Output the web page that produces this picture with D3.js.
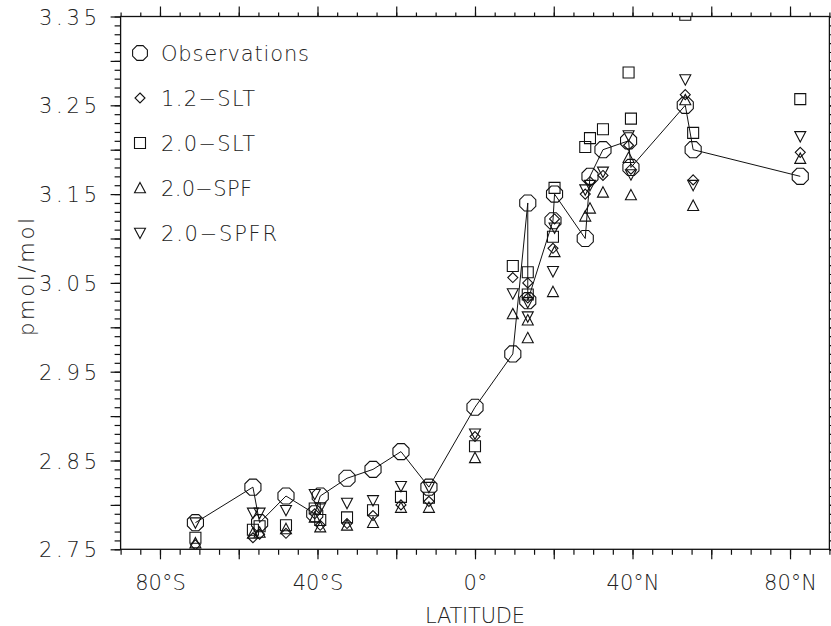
<!DOCTYPE html>
<html lang="en">
<head>
    <meta charset="UTF-8">
    <script src="https://d3js.org/d3.v7.min.js"></script>
    <title>pmol/mol vs latitude</title>
    <style>
        body { margin: 0; background: #fff; }
        text { font-family: "DejaVu Sans", sans-serif; font-weight: 200; fill: #222; }
    </style>
</head>
<body>
<script>
    // station latitudes (deg, S negative) and mixing ratios (pmol/mol)
    var lat    = [-71, -56.4, -54.7, -48, -40.7, -39.3, -32.5, -25.9, -18.8, -11.7, 0, 9.6, 13.4, 13.4, 19.8, 20.2, 28, 29.2, 32.5, 39, 39.6, 53.4, 55.4, 82.6];
    var obs    = [2.78, 2.82, 2.78, 2.81, 2.79, 2.81, 2.83, 2.84, 2.86, 2.82, 2.91, 2.97, 3.14, 3.03, 3.12, 3.15, 3.10, 3.17, 3.20, 3.21, 3.18, 3.25, 3.20, 3.17];
    var slt12  = [2.755, 2.763, 2.767, 2.768, 2.790, 2.777, 2.779, 2.788, 2.800, 2.804, 2.877, 3.056, 3.050, 3.033, 3.089, 3.122, 3.150, 3.164, 3.171, 3.205, 3.178, 3.262, 3.166, 3.197];
    var slt20  = [2.763, 2.772, 2.776, 2.777, 2.796, 2.783, 2.786, 2.794, 2.809, 2.808, 2.866, 3.069, 3.062, 3.037, 3.102, 3.157, 3.203, 3.213, 3.223, 3.287, 3.235, 3.352, 3.219, 3.257];
    var spf20  = [2.757, 2.768, 2.769, 2.773, 2.786, 2.775, 2.777, 2.780, 2.797, 2.797, 2.853, 3.015, 3.008, 2.988, 3.040, 3.085, 3.125, 3.134, 3.152, 3.191, 3.149, 3.256, 3.137, 3.190];
    var spfr20 = [2.780, 2.791, 2.791, 2.794, 2.812, 2.797, 2.802, 2.805, 2.821, 2.820, 2.880, 3.038, 3.028, 3.012, 3.063, 3.112, 3.155, 3.160, 3.175, 3.216, 3.172, 3.279, 3.160, 3.215];

    var legendNames = ["Observations", "1.2\u2212SLT", "2.0\u2212SLT", "2.0\u2212SPF", "2.0\u2212SPFR"];

    var xTickValues = [-80, -40, 0, 40, 80];
    var xTickLabels = ["80°S", "40°S", "0°", "40°N", "80°N"];
    var yTickValues = [2.75, 2.85, 2.95, 3.05, 3.15, 3.25, 3.35];
    var yTickLabels = ["2.75", "2.85", "2.95", "3.05", "3.15", "3.25", "3.35"];

    var width = 831, height = 626;
    var pLeft = 120.6, pRight = 829.4, pTop = 16.5, pBottom = 549.3;

    var x = d3.scaleLinear().domain([-90, 90]).range([pLeft, pRight]);
    var y = d3.scaleLinear().domain([2.75, 3.35]).range([pBottom, pTop]);

    var svg = d3.select("body").append("svg")
            .attr("width", width)
            .attr("height", height);

    // marker outlines, centred on 0,0
    function octagon(r) {
        var p = [];
        for (var k = 0; k < 8; k++) {
            var a = Math.PI / 8 + k * Math.PI / 4;
            p.push([r * Math.cos(a), r * Math.sin(a)]);
        }
        return "M" + p.join("L") + "Z";
    }
    var shapes = [
        octagon(8.7),
        "M0,-5L5,0L0,5L-5,0Z",
        "M-5.5,-5.5L5.5,-5.5L5.5,5.5L-5.5,5.5Z",
        "M0,-5.6L5.5,4.8L-5.5,4.8Z",
        "M0,5.6L5.5,-4.8L-5.5,-4.8Z"
    ];
    var series = [obs, slt12, slt20, spf20, spfr20];

    // minor + major ticks on all four sides
    var xMinor = d3.range(-90, 91, 5), xMajor = d3.range(-80, 81, 20);
    var yMinor = d3.range(0, 61).map(function (i) { return 2.75 + i * 0.01; });
    var yMajor = d3.range(0, 13).map(function (i) { return 2.75 + i * 0.05; });

    function addAxis(axis, tx, ty) {
        var g = svg.append("g")
                .attr("transform", "translate(" + tx + "," + ty + ")")
                .call(axis);
        g.select(".domain").remove();
        g.selectAll("line").attr("stroke", "#111").attr("stroke-width", 1.2);
        return g;
    }
    var none = function () { return ""; };

    addAxis(d3.axisBottom(x).tickValues(xMinor).tickSize(5.5).tickFormat(none), 0, pBottom);
    addAxis(d3.axisTop(x).tickValues(xMinor).tickSize(4).tickFormat(none), 0, pTop);
    addAxis(d3.axisTop(x).tickValues(xMajor).tickSize(10).tickFormat(none), 0, pTop);
    addAxis(d3.axisLeft(y).tickValues(yMinor).tickSize(6).tickFormat(none), pLeft, 0);
    addAxis(d3.axisLeft(y).tickValues(yMajor).tickSize(10).tickFormat(none), pLeft, 0);
    addAxis(d3.axisRight(y).tickValues(yMinor).tickSize(5).tickFormat(none), pRight, 0);
    addAxis(d3.axisRight(y).tickValues(yMajor).tickSize(10).tickFormat(none), pRight, 0);

    var bx = addAxis(d3.axisBottom(x).tickValues(xMajor).tickSize(10).tickPadding(15.7)
            .tickFormat(function (d) {
                var i = xTickValues.indexOf(d);
                return i < 0 ? "" : xTickLabels[i];
            }), 0, pBottom);
    bx.selectAll("text").attr("font-size", 21).attr("font-family", null).attr("fill", null);

    var ly = addAxis(d3.axisLeft(y).tickValues(yTickValues).tickSize(0).tickPadding(23.6)
            .tickFormat(function (d, i) { return yTickLabels[i]; }), pLeft, 0);
    ly.selectAll("text").attr("font-size", 21).attr("font-family", null).attr("fill", null)
            .attr("dy", "0.36em")
            .attr("textLength", 58).attr("lengthAdjust", "spacing");

    // frame
    svg.append("rect")
            .attr("x", pLeft).attr("y", pTop)
            .attr("width", pRight - pLeft).attr("height", pBottom - pTop)
            .attr("fill", "none").attr("stroke", "#111").attr("stroke-width", 1.3);

    svg.append("clipPath").attr("id", "plot")
            .append("rect")
            .attr("x", pLeft).attr("y", pTop)
            .attr("width", pRight - pLeft).attr("height", pBottom - pTop);

    var plot = svg.append("g").attr("clip-path", "url(#plot)");

    // observations joined in station order
    var line = d3.line()
            .x(function (d, i) { return x(lat[i]); })
            .y(function (d) { return y(d); });
    plot.append("path")
            .datum(obs)
            .attr("d", line)
            .attr("fill", "none")
            .attr("stroke", "#111")
            .attr("stroke-width", 1);

    series.forEach(function (vals, s) {
        plot.selectAll(".m" + s)
                .data(vals)
                .enter()
                .append("path")
                .attr("class", "m" + s)
                .attr("d", shapes[s])
                .attr("transform", function (d, i) { return "translate(" + x(lat[i]) + "," + y(d) + ")"; })
                .attr("fill", "none")
                .attr("stroke", "#111")
                .attr("stroke-width", 1.1);
    });

    // legend
    var legendWidths = [148, 94, 94, 91, 116];
    var legend = svg.selectAll(".legend")
            .data(legendNames)
            .enter()
            .append("g")
            .attr("transform", function (d, i) { return "translate(140," + (53 + i * 45) + ")"; });
    legend.append("path")
            .attr("d", function (d, i) { return i === 0 ? octagon(8) : shapes[i]; })
            .attr("fill", "none")
            .attr("stroke", "#111")
            .attr("stroke-width", 1.1);
    legend.append("text")
            .attr("x", 21)
            .attr("y", 7.7)
            .attr("font-size", 21)
            .attr("textLength", function (d, i) { return legendWidths[i]; })
            .attr("lengthAdjust", "spacing")
            .text(function (d) { return d; });

    svg.append("text")
            .attr("x", (pLeft + pRight) / 2)
            .attr("y", 622.5)
            .attr("text-anchor", "middle")
            .attr("font-size", 21)
            .attr("textLength", 100)
            .attr("lengthAdjust", "spacing")
            .text("LATITUDE");

    svg.append("text")
            .attr("transform", "translate(34,277) rotate(-90)")
            .attr("text-anchor", "middle")
            .attr("font-size", 21)
            .attr("textLength", 118)
            .attr("lengthAdjust", "spacing")
            .text("pmol/mol");
</script>
</body>
</html>
